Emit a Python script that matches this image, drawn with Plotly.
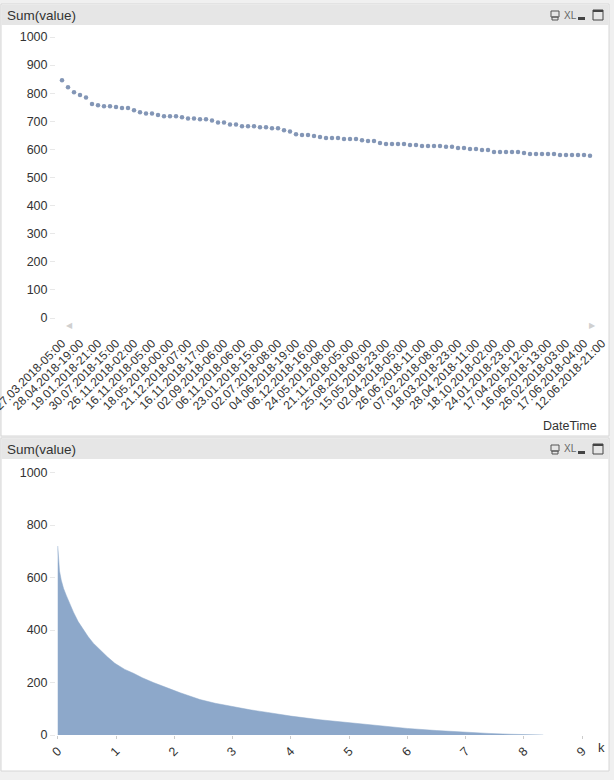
import plotly.graph_objects as go

W, H = 614, 780

# ---------------- data ----------------
top_values = [846, 821, 803, 794, 785, 762, 757, 754, 754, 751, 747, 747, 739, 732, 728, 728,
              722, 718, 718, 718, 714, 710, 710, 707, 707, 703, 696, 696, 689, 689, 682, 682,
              682, 679, 679, 675, 675, 668, 664, 654, 651, 651, 648, 644, 641, 641, 641, 637,
              637, 637, 633, 630, 630, 623, 619, 619, 619, 619, 616, 616, 612, 612, 612, 612,
              609, 609, 605, 605, 601, 601, 598, 598, 591, 591, 591, 591, 591, 587, 584, 584,
              584, 584, 584, 580, 580, 580, 580, 580, 577]

date_labels = ["27.03.2018-05:00", "28.04.2018-19:00", "19.01.2018-21:00", "30.07.2018-15:00",
               "26.11.2018-02:00", "16.11.2018-05:00", "18.05.2018-00:00", "21.12.2018-07:00",
               "16.11.2018-17:00", "02.09.2018-06:00", "06.11.2018-06:00", "23.01.2018-15:00",
               "02.07.2018-08:00", "04.06.2018-19:00", "06.12.2018-16:00", "24.05.2018-08:00",
               "21.11.2018-05:00", "25.08.2018-00:00", "15.05.2018-23:00", "02.04.2018-05:00",
               "26.06.2018-11:00", "07.02.2018-08:00", "18.03.2018-23:00", "28.04.2018-11:00",
               "18.10.2018-02:00", "24.01.2018-23:00", "17.04.2018-12:00", "16.06.2018-13:00",
               "26.02.2018-03:00", "17.06.2018-04:00", "12.06.2018-21:00"]
label_step = 3

k_values = [0, 0.005, 0.01, 0.02, 0.03, 0.06, 0.1, 0.15, 0.2, 0.27, 0.35, 0.44, 0.52, 0.61,
            0.75, 0.85, 0.98, 1.15, 1.3, 1.45, 1.64, 1.8, 1.98, 2.1, 2.25, 2.44, 2.7, 3.0,
            3.3, 3.6, 4.0, 4.5, 5.0, 5.5, 6.0, 6.5, 7.0, 7.4, 7.75, 8.0, 8.32, 8.33]
k_sums = [720, 700, 680, 650, 625, 590, 558, 530, 502, 468, 432, 400, 375, 350,
          318, 298, 273, 250, 235, 218, 200, 185, 171, 161, 150, 135, 121, 108,
          96, 86, 72, 58, 47, 36, 25, 17, 10, 6, 3, 2, 2, 0]

y_ticks = list(range(0, 1001, 100))
y_ticks2 = list(range(0, 1001, 200))
k_ticks = list(range(0, 10))

# ---------------- helpers ----------------
def px(x):
    return x / W

def py(y):
    return 1 - y / H

TXT = "#333333"
FONT = "Arial, Liberation Sans, sans-serif"

fig = go.Figure()

fig.add_trace(go.Scatter(
    x=list(range(len(top_values))), y=top_values, mode="markers",
    marker=dict(size=4.5, color="#8396b6"),
    xaxis="x", yaxis="y", hoverinfo="skip", showlegend=False))

fig.add_trace(go.Scatter(
    x=k_values, y=k_sums, mode="lines", line=dict(width=0.5, color="#8da8ca"),
    fill="tozeroy", fillcolor="#8da8ca",
    xaxis="x2", yaxis="y2", hoverinfo="skip", showlegend=False))

tickvals_top = [i * label_step for i in range(len(date_labels))]

fig.update_layout(
    width=W, height=H,
    margin=dict(l=0, r=0, t=0, b=0, pad=0, autoexpand=False),
    paper_bgcolor="#f0f0f0",
    plot_bgcolor="rgba(0,0,0,0)",
    font=dict(family=FONT, color=TXT, size=12),
    xaxis=dict(domain=[px(56), px(608)], range=[-1, 91], anchor="y", automargin=False,
               tickmode="array", tickvals=tickvals_top, ticktext=date_labels,
               tickangle=-45, ticks="", showgrid=False, zeroline=False, showline=False,
               ticklabelstandoff=15, ticklabeloverflow="allow",
               tickfont=dict(size=12, color=TXT, family=FONT)),
    yaxis=dict(domain=[py(318), py(37)], range=[0, 1000], anchor="x", automargin=False,
               tickmode="array", tickvals=y_ticks, ticks="outside", ticklen=5,
               tickcolor="#e8e8e8", showgrid=False, zeroline=False, showline=False,
               tickfont=dict(size=12.5, color=TXT, family=FONT)),
    xaxis2=dict(domain=[px(56), px(605)], range=[-0.03, 9.39], anchor="y2", automargin=False,
                tickmode="array", tickvals=k_ticks, tickangle=-45,
                ticks="outside", ticklen=3, tickcolor="#cccccc", ticklabeloverflow="allow",
                showgrid=False, zeroline=False, showline=False,
                tickfont=dict(size=12.5, color=TXT, family=FONT)),
    yaxis2=dict(domain=[py(735), py(472.5)], range=[0, 1000], anchor="x2", automargin=False,
                tickmode="array", tickvals=y_ticks2, ticks="outside", ticklen=5,
                tickcolor="#e8e8e8", showgrid=False, zeroline=False, showline=False,
                tickfont=dict(size=12.5, color=TXT, family=FONT)),
)

shapes = []
def rect(x0, y0, x1, y1, fill, line="rgba(0,0,0,0)", lw=0, layer="below"):
    shapes.append(dict(type="rect", xref="paper", yref="paper",
                       x0=px(x0), x1=px(x1), y0=py(y1), y1=py(y0),
                       fillcolor=fill, line=dict(color=line, width=lw), layer=layer))

annotations = []
def text(x, y, s, size=12, color=TXT, xanchor="left", yanchor="middle"):
    annotations.append(dict(x=px(x), y=py(y), xref="paper", yref="paper", text=s,
                            showarrow=False, xanchor=xanchor, yanchor=yanchor,
                            font=dict(size=size, color=color, family=FONT)))

for (top, bottom, hdr_bot) in [(4, 436, 25), (438, 771, 459)]:
    rect(1, top, 609, bottom, "#ffffff", "#d6d6d6", 1)
    rect(1.5, top + 1, 608.5, hdr_bot, "#e6e6e6")
    text(5, (top + 1 + hdr_bot) / 2 + 0.5, "Sum(value)", size=13.5, color="#333333")
    cy = (top + 1 + hdr_bot) / 2
    # printer icon
    rect(551, cy - 4, 559, cy + 2, "rgba(0,0,0,0)", "#555555", 1, layer="above")
    rect(552, cy + 2, 558, cy + 5, "rgba(0,0,0,0)", "#555555", 1, layer="above")
    text(562, cy, "XL", size=10, color="#666666")
    rect(578, cy + 2, 585, cy + 5, "#444444", layer="above")
    rect(593, cy - 5, 603, cy + 5, "rgba(0,0,0,0)", "#444444", 1, layer="above")
    rect(593, cy - 5, 603, cy - 3, "#444444", layer="above")

text(64, 325, "◀", size=8, color="#d0d0d0")
text(598, 325, "▶", size=8, color="#d0d0d0", xanchor="right")
text(599, 426, "DateTime", size=12.5, xanchor="right")
text(596, 747, "k", size=13)

fig.update_layout(shapes=shapes, annotations=annotations)

fig.write_html("out.html", config={"displayModeBar": False},
               post_script="document.body.style.margin='0';document.body.style.padding='0';"
                           "document.body.style.overflow='hidden';")
